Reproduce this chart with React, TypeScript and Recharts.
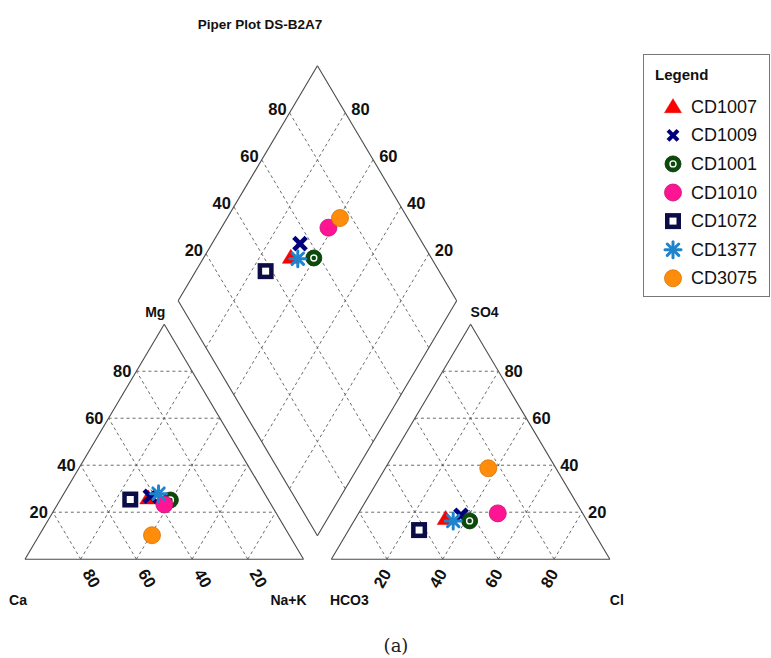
import React from 'react';
import { ScatterChart, Scatter, XAxis, YAxis, ReferenceLine, ReferenceDot, Legend } from 'recharts';

// ---------- data (percent of meq) ----------
const samples = ['CD1007', 'CD1009', 'CD1001', 'CD1010', 'CD1072', 'CD1377', 'CD3075'];
const caPct = [42.7, 41.6, 35.2, 38.3, 49.5, 38.1, 49.3];
const mgPct = [26.1, 26.8, 25.2, 23.3, 25.4, 27.9, 10.2];
const nakPct = [31.2, 31.6, 39.6, 38.4, 25.1, 34.0, 40.5];
const hco3Pct = [50.3, 44.1, 42.2, 30.5, 62.3, 48.1, 24.3];
const so4Pct = [17.3, 18.7, 16.3, 19.5, 12.4, 16.3, 38.7];
const clPct = [32.4, 37.2, 41.5, 50.0, 25.3, 35.6, 37.0];
const gridTicks = [20, 40, 60, 80];
const tickLabels = ['20', '40', '60', '80'];

// ---------- styles ----------
const markerKinds = ['triangle', 'cross', 'ring', 'pink', 'square', 'asterisk', 'orange'];
const FONT = '"Liberation Sans", Arial, Helvetica, sans-serif';
const FRAME = '#4a4a4a';
const GRID = '#5a5a5a';

// ---------- Piper geometry (plot units) ----------
const SIDE = 100;
const GAP = 10;
const S60 = Math.sqrt(3) / 2;
const H = SIDE * S60;
const OFF = SIDE + GAP;
const QX = SIDE + GAP / 2;
const QY = (GAP / 2) * Math.sqrt(3);

// pixel mapping of the plot units (chart fills the whole page)
const W = 771;
const HT = 658;
const X0 = 25;
const KX = 2.785;
const Y0 = 559.2;
const KY = 2.713;
const xDomain = [-X0 / KX, (W - X0) / KX];
const yDomain = [(Y0 - HT) / KY, Y0 / KY];

type P = { x: number; y: number };
const cationPt = (mg: number, nak: number): P => ({ x: nak + mg / 2, y: (mg * H) / 100 });
const anionPt = (so4: number, cl: number): P => ({ x: OFF + cl + so4 / 2, y: (so4 * H) / 100 });
const diamondPt = (a: P, b: P): P => {
  const s = (b.x - a.x) + (b.y - a.y) / (2 * S60);
  return { x: a.x + 0.5 * s, y: a.y + S60 * s };
};

const seriesData = samples.map((name, i) => {
  const c = cationPt(mgPct[i], nakPct[i]);
  const a = anionPt(so4Pct[i], clPct[i]);
  const d = diamondPt(c, a);
  return { name, kind: markerKinds[i], ca: caPct[i], hco3: hco3Pct[i], points: [c, a, d] };
});

// ---------- frame & grid segments ----------
type Seg = [P, P];
const segs: { seg: Seg; dashed: boolean }[] = [];
const addTri = (ox: number) => {
  const A = { x: ox, y: 0 };
  const B = { x: ox + SIDE, y: 0 };
  const C = { x: ox + SIDE / 2, y: H };
  segs.push({ seg: [A, B], dashed: false }, { seg: [B, C], dashed: false }, { seg: [C, A], dashed: false });
  gridTicks.forEach((k) => {
    const f = k / 100;
    segs.push({ seg: [{ x: ox + (SIDE * f) / 2, y: H * f }, { x: ox + SIDE - (SIDE * f) / 2, y: H * f }], dashed: true });
    segs.push({ seg: [{ x: ox + SIDE * f, y: 0 }, { x: ox + SIDE * f + (SIDE * (1 - f)) / 2, y: H * (1 - f) }], dashed: true });
    segs.push({ seg: [{ x: ox + SIDE * (1 - f), y: 0 }, { x: ox + (SIDE * (1 - f)) / 2, y: H * (1 - f) }], dashed: true });
  });
};
addTri(0);
addTri(OFF);
const dq = (p: number, q: number): P => ({ x: QX - 50 * p + 50 * q, y: QY + H * p + H * q });
segs.push(
  { seg: [dq(0, 0), dq(1, 0)], dashed: false },
  { seg: [dq(1, 0), dq(1, 1)], dashed: false },
  { seg: [dq(1, 1), dq(0, 1)], dashed: false },
  { seg: [dq(0, 1), dq(0, 0)], dashed: false }
);
gridTicks.forEach((k) => {
  const f = k / 100;
  segs.push({ seg: [dq(f, 0), dq(f, 1)], dashed: true });
  segs.push({ seg: [dq(0, f), dq(1, f)], dashed: true });
});

// ---------- text labels ----------
type Lab = { at: P; text: string; dx: number; dy: number; anchor: string; rot?: number; size: number; weight?: string };
const labels: Lab[] = [];
gridTicks.forEach((k, i) => {
  const f = k / 100;
  const t = tickLabels[i];
  labels.push({ at: { x: (SIDE * f) / 2, y: H * f }, text: t, dx: -5, dy: 0, anchor: 'end', size: 16.5, weight: 'bold' });
  labels.push({ at: { x: SIDE * (1 - f), y: 0 }, text: t, dx: 11, dy: 19, anchor: 'middle', rot: 60, size: 16.5, weight: 'bold' });
  labels.push({ at: { x: OFF + SIDE - (SIDE * f) / 2, y: H * f }, text: t, dx: 6, dy: 0, anchor: 'start', size: 16.5, weight: 'bold' });
  labels.push({ at: { x: OFF + SIDE * f, y: 0 }, text: t, dx: -5, dy: 19, anchor: 'middle', rot: -60, size: 16.5, weight: 'bold' });
  labels.push({ at: dq(1, f), text: t, dx: -3, dy: -4, anchor: 'end', size: 16.5, weight: 'bold' });
  labels.push({ at: dq(f, 1), text: t, dx: 6, dy: -4, anchor: 'start', size: 16.5, weight: 'bold' });
});
const cornerLabels: Lab[] = [
  { at: { x: SIDE / 2, y: H }, text: 'Mg', dx: -9, dy: -12, anchor: 'middle', size: 14, weight: 'bold' },
  { at: { x: 0, y: 0 }, text: 'Ca', dx: -7, dy: 41, anchor: 'middle', size: 14, weight: 'bold' },
  { at: { x: SIDE, y: 0 }, text: 'Na+K', dx: -15, dy: 41, anchor: 'middle', size: 14, weight: 'bold' },
  { at: { x: OFF, y: 0 }, text: 'HCO3', dx: 18, dy: 41, anchor: 'middle', size: 14, weight: 'bold' },
  { at: { x: OFF + SIDE, y: 0 }, text: 'Cl', dx: 7, dy: 41, anchor: 'middle', size: 14, weight: 'bold' },
  { at: { x: OFF + SIDE / 2, y: H }, text: 'SO4', dx: 14, dy: -12, anchor: 'middle', size: 14, weight: 'bold' },
];

// ---------- markers ----------
const Marker = ({ kind, cx, cy, small }: { kind: string; cx: number; cy: number; small?: boolean }) => {
  switch (kind) {
    case 'triangle':
      return <polygon points={`${cx},${cy - 8} ${cx - 8.5},${cy + 6} ${cx + 8.5},${cy + 6}`} fill="#ff0000" stroke="#e00000" strokeWidth={0.5} />;
    case 'cross': {
      const h = small ? 5 : 6.2;
      return (
        <g stroke="#00007a" strokeWidth={small ? 4 : 4.6}>
          <line x1={cx - h} y1={cy - h} x2={cx + h} y2={cy + h} />
          <line x1={cx - h} y1={cy + h} x2={cx + h} y2={cy - h} />
        </g>
      );
    }
    case 'ring':
      return (
        <g>
          <circle cx={cx} cy={cy} r={8} fill="#0b4a0b" stroke="#063306" strokeWidth={0.8} />
          <circle cx={cx} cy={cy} r={3} fill="none" stroke="#ffffff" strokeWidth={1.4} />
        </g>
      );
    case 'pink':
      return <circle cx={cx} cy={cy} r={8.5} fill="#ff1493" stroke="#c8106e" strokeWidth={0.8} />;
    case 'square':
      return (
        <g>
          <rect x={cx - 8} y={cy - 8} width={16} height={16} fill="#0c0c46" />
          <rect x={cx - 3.5} y={cy - 3.5} width={7} height={7} fill="#ffffff" />
        </g>
      );
    case 'asterisk':
      return (
        <g stroke="#1f84cc" strokeWidth={3} strokeLinecap="round">
          <line x1={cx - 8} y1={cy} x2={cx + 8} y2={cy} />
          <line x1={cx} y1={cy - 8} x2={cx} y2={cy + 8} />
          <line x1={cx - 5.7} y1={cy - 5.7} x2={cx + 5.7} y2={cy + 5.7} />
          <line x1={cx - 5.7} y1={cy + 5.7} x2={cx + 5.7} y2={cy - 5.7} />
        </g>
      );
    default:
      return <circle cx={cx} cy={cy} r={8.5} fill="#ff8c0a" stroke="#d87400" strokeWidth={0.8} />;
  }
};

const LegendBox = () => (
  <svg width={128} height={244} style={{ display: 'block' }}>
    <rect x={0.5} y={0.5} width={126} height={242} fill="#ffffff" stroke="#777777" strokeWidth={1} />
    <text x={12} y={26} fontFamily={FONT} fontWeight="bold" fontSize={15} fill="#111">Legend</text>
    {seriesData.map((s, i) => {
      const cy = 52.7 + i * 28.6;
      return (
        <g key={s.name}>
          <Marker kind={s.kind} cx={30} cy={cy} small />
          <text x={48} y={cy} dominantBaseline="central" fontFamily={FONT} fontSize={18} fill="#111">{s.name}</text>
        </g>
      );
    })}
  </svg>
);

const renderLabel = (l: Lab, key: string) => (
  <ReferenceDot
    key={key}
    x={l.at.x}
    y={l.at.y}
    r={0}
    ifOverflow="visible"
    shape={(p: any) => {
      const x = p.cx + l.dx;
      const y = p.cy + l.dy;
      return (
        <text
          x={x}
          y={y}
          textAnchor={l.anchor as any}
          dominantBaseline="central"
          fontFamily={FONT}
          fontSize={l.size}
          fontWeight={l.weight}
          fill="#111"
          transform={l.rot ? `rotate(${l.rot} ${x} ${y})` : undefined}
        >
          {l.text}
        </text>
      );
    }}
  />
);

export default function App() {
  return (
    <div style={{ position: 'absolute', left: 0, top: 0, width: W, height: HT, background: '#fff' }}>
      <ScatterChart width={W} height={HT} margin={{ top: 0, right: 0, bottom: 0, left: 0 }}>
        <XAxis type="number" dataKey="x" domain={xDomain} allowDataOverflow hide />
        <YAxis type="number" dataKey="y" domain={yDomain} allowDataOverflow hide />
        {segs.map((s, i) => (
          <ReferenceLine
            key={`seg${i}`}
            segment={s.seg}
            stroke={s.dashed ? GRID : FRAME}
            strokeWidth={s.dashed ? 0.9 : 1.1}
            strokeDasharray={s.dashed ? '3 3' : undefined}
            ifOverflow="visible"
          />
        ))}
        {labels.map((l, i) => renderLabel(l, `lab${i}`))}
        {cornerLabels.map((l, i) => renderLabel(l, `cor${i}`))}
        {seriesData.map((s) => (
          <Scatter
            key={s.name}
            name={s.name}
            data={s.points}
            isAnimationActive={false}
            shape={(p: any) => <Marker kind={s.kind} cx={p.cx} cy={p.cy} />}
          />
        ))}
        <Legend
          layout="vertical"
          align="center"
          verticalAlign="middle"
          wrapperStyle={{ left: 643, top: 54, width: 128, height: 244 }}
          content={() => <LegendBox />}
        />
      </ScatterChart>
      <div
        style={{
          position: 'absolute', left: 0, width: 520, top: 16, textAlign: 'center',
          fontFamily: FONT, fontWeight: 'bold', fontSize: 13.5, color: '#111', lineHeight: '18px',
        }}
      >
        Piper Plot DS-B2A7
      </div>
      <div
        style={{
          position: 'absolute', left: 346, width: 100, top: 634, textAlign: 'center',
          fontFamily: '"DejaVu Serif", serif', fontSize: 18, color: '#222', lineHeight: '24px',
        }}
      >
        (a)
      </div>
    </div>
  );
}
